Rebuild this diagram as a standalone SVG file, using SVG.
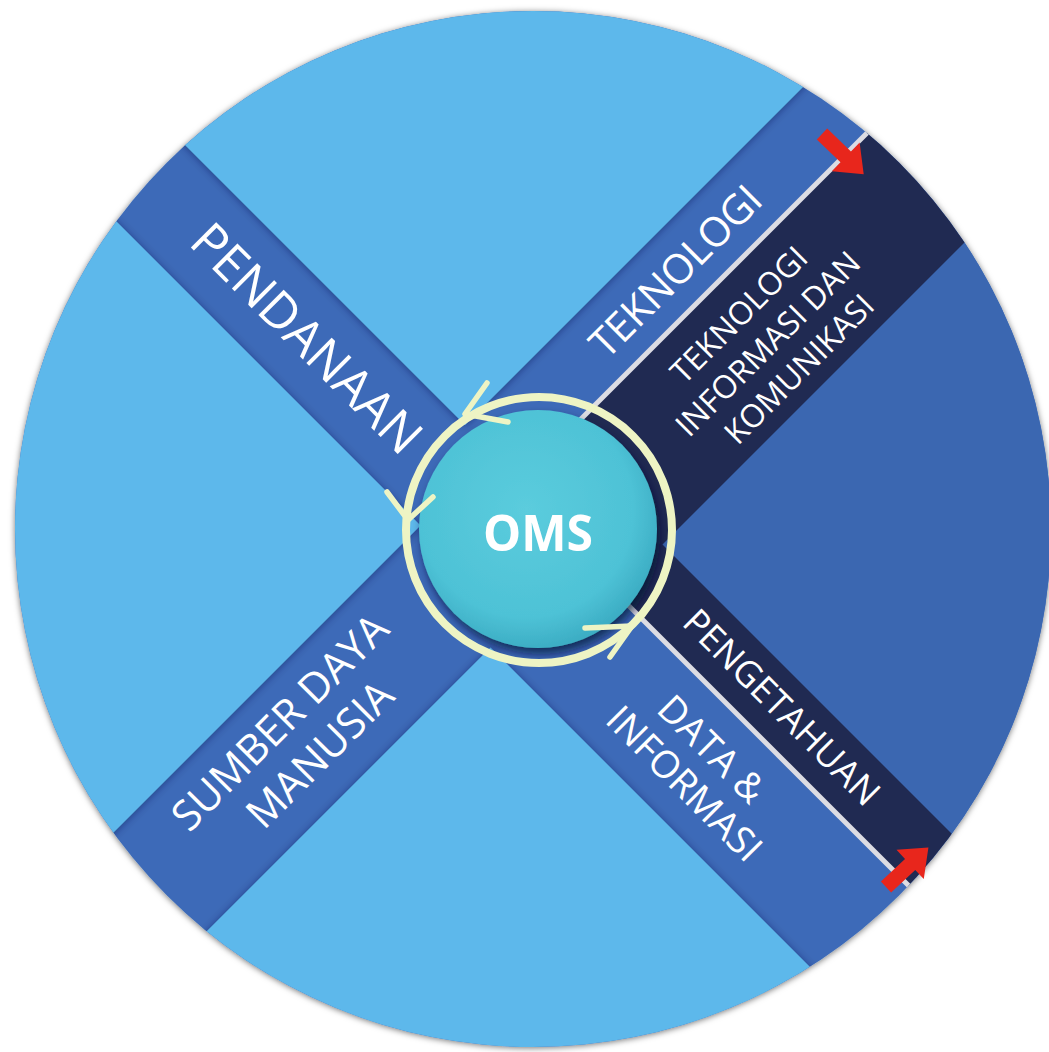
<svg xmlns="http://www.w3.org/2000/svg" width="1049" height="1052" viewBox="0 0 1049 1052">
  <style>
    .lbl { font-family: "Open Sans", "Noto Sans", "DejaVu Sans", sans-serif; fill: #ffffff; text-anchor: middle; }
    .light { fill: #5DB8EB; }
    .navy { fill: #202A52; }
    .divider { stroke: #DCDCE3; stroke-width: 5; fill: none; }
    .ring { stroke: #EEF4C4; fill: none; stroke-width: 8; }
    .chev { stroke: #EEF4C4; fill: none; stroke-width: 5.5; stroke-linecap: round; stroke-linejoin: round; }
    .red { fill: #E8261C; }
  </style>
  <defs>
    <clipPath id="disc">
      <circle cx="533" cy="529" r="518"/>
    </clipPath>
    <filter id="outerShadow" x="-10%" y="-10%" width="120%" height="120%">
      <feDropShadow dx="0" dy="1" stdDeviation="3" flood-color="#000" flood-opacity="0.55"/>
    </filter>
    <filter id="quadShadow" x="-10%" y="-10%" width="120%" height="120%">
      <feDropShadow dx="0" dy="1" stdDeviation="4" flood-color="#0A1840" flood-opacity="0.45"/>
    </filter>
    <filter id="hubShadow" x="-30%" y="-30%" width="160%" height="160%">
      <feDropShadow dx="3" dy="6" stdDeviation="5" flood-color="#061030" flood-opacity="0.7"/>
    </filter>
    <radialGradient id="hubFill" cx="0.45" cy="0.42" r="0.6">
      <stop offset="0" stop-color="#5BCCDD"/>
      <stop offset="0.75" stop-color="#4EC2D6"/>
      <stop offset="1" stop-color="#3AABC2"/>
    </radialGradient>
    <path id="redArrow" d="M0,-7.5 L33,-7.5 L33,-20 L58,0 L33,20 L33,7.5 L0,7.5 Z"/>
  </defs>

  <!-- base disc -->
  <circle cx="533" cy="529" r="518" fill="#3C6BB8" filter="url(#outerShadow)"/>

  <g id="background" clip-path="url(#disc)">
    <!-- right quadrant -->
    <polygon points="662.5,544.5 1262.5,-55.5 1262.5,1144.5" fill="#3B67B1"/>
    <!-- navy stripes -->
    <polygon class="navy" points="511.5,488.5 1100,-100 1203.5,3.5 615,592"/>
    <polygon class="navy" points="511.5,488.5 559,441 1159,1041 1111.5,1088.5"/>
    <!-- dividers -->
    <line class="divider" x1="511.5" y1="488.5" x2="1100" y2="-100"/>
    <line class="divider" x1="511.5" y1="488.5" x2="1111.5" y2="1088.5"/>
    <!-- light quadrants -->
    <g filter="url(#quadShadow)">
      <polygon class="light" points="465,425 -135,-175 1065,-175"/>
      <polygon class="light" points="420.5,525.5 -179.5,-74.5 -179.5,1125.5"/>
      <polygon class="light" points="490.5,647.5 -109.5,1247.5 1090.5,1247.5"/>
    </g>
  </g>

  <!-- labels -->
  <g id="pendanaan" transform="translate(307,338) rotate(45)">
    <text class="lbl" x="0" y="18" font-size="50">PENDANAAN</text>
  </g>
  <g id="teknologi" transform="translate(675,271) rotate(-45)">
    <text class="lbl" x="0" y="15" font-size="41" letter-spacing="-0.5">TEKNOLOGI</text>
  </g>
  <g id="tik" transform="translate(771,341) rotate(-45)">
    <text class="lbl" font-size="32">
      <tspan x="0" y="-30">TEKNOLOGI</tspan>
      <tspan x="0" y="11">INFORMASI DAN</tspan>
      <tspan x="0" y="51">KOMUNIKASI</tspan>
    </text>
  </g>
  <g id="pengetahuan" transform="translate(782,707) rotate(45)">
    <text class="lbl" x="0" y="13" font-size="36">PENGETAHUAN</text>
  </g>
  <g id="data-informasi" transform="translate(700,768) rotate(45)">
    <text class="lbl" font-size="38">
      <tspan x="0" y="-8.5">DATA &amp;</tspan>
      <tspan x="0" y="35.5">INFORMASI</tspan>
    </text>
  </g>
  <g id="sdm" transform="translate(301.5,736) rotate(-45)">
    <text class="lbl" font-size="42">
      <tspan x="0" y="-10.5">SUMBER DAYA</tspan>
      <tspan x="0" y="40.5">MANUSIA</tspan>
    </text>
  </g>

  <!-- central hub -->
  <g id="oms">
    <circle cx="538" cy="529" r="119" fill="url(#hubFill)" filter="url(#hubShadow)"/>
    <text class="lbl" x="538" y="551" font-size="50" font-weight="bold" textLength="110" lengthAdjust="spacingAndGlyphs">OMS</text>
  </g>

  <!-- connectors -->
  <g id="connectors">
    <circle class="ring" cx="539" cy="530" r="133"/>
    <polyline class="chev" points="487,383 465,414 508,422"/>
    <polyline class="chev" points="387,492 408,520 433,497"/>
    <polyline class="chev" points="585,628 632,626 610,657"/>
    <use href="#redArrow" class="red" transform="translate(822,134) rotate(44)"/>
    <use href="#redArrow" class="red" transform="translate(886,887) rotate(-43)"/>
  </g>
</svg>
